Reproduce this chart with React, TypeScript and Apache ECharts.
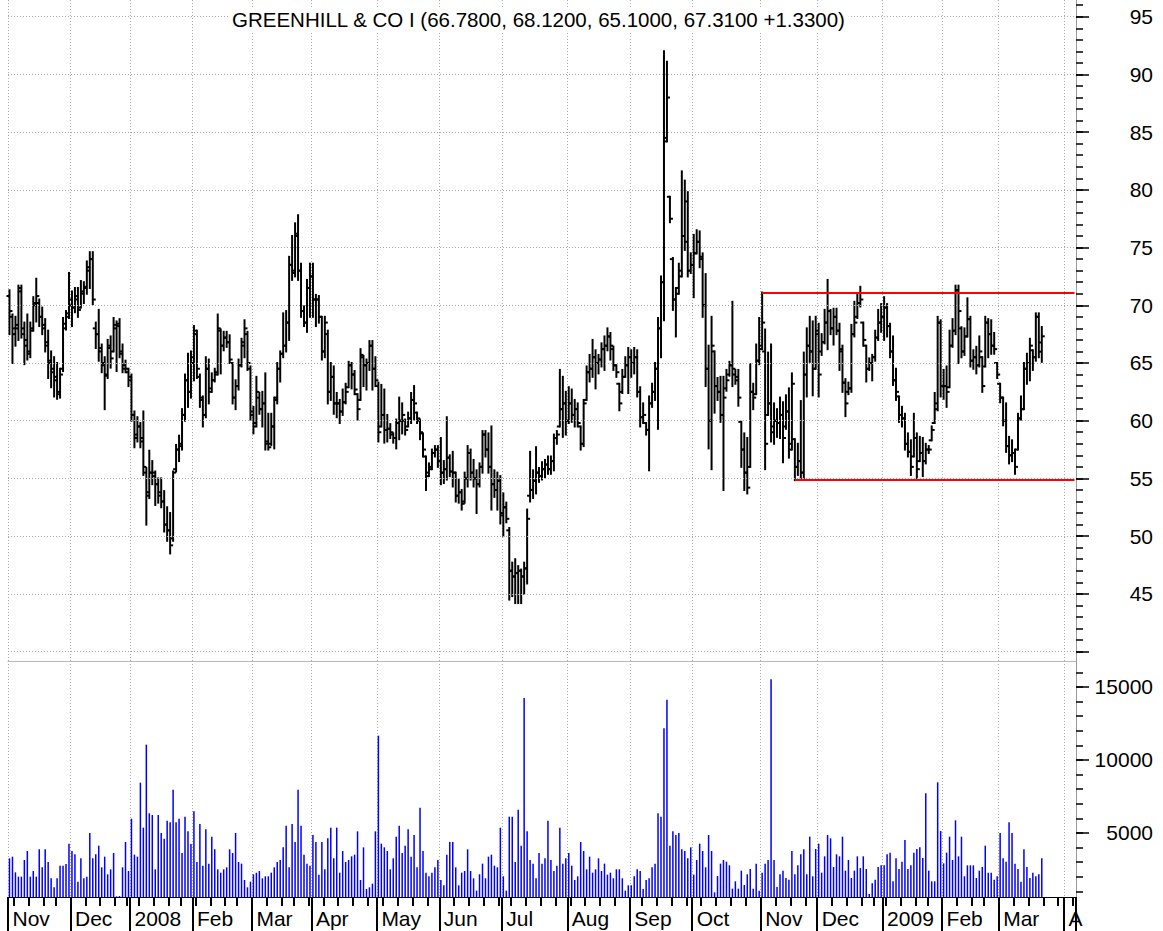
import React, { useEffect, useRef } from 'react';
import * as echarts from 'echarts';

const TICKER = 'GREENHILL & CO I';

// OHLC per trading day: [open, high, low, close]
const nov07 = [[70.8,71.3,67.5,69.5],[69,69.2,65,68],[67.5,69,66.5,68.3],[68,71.7,67,71.5],[71.2,71.7,67.2,67.5],[68,68.5,64.9,66.5],[67,69.2,65.3,65.8],[66,68.5,65.5,67.8],[68,70.7,67.8,70.2],[70,72.3,68.6,70.8],[70.2,70.5,68.2,69],[69,69.8,67.5,68.3],[68,68.8,66,66.5],[66.8,67.8,63.7,65.2],[65,66,62.9,64.5],[64.2,65.5,62.1,63.5],[63.8,65,61.9,62.3],[62.5,64.5,62,64],[64.5,68.9,64.3,68.4],[68,69.5,67.9,69.3],[69,72.8,68.9,70.5]];
const dec07 = [[70,71.2,68.2,69.8],[69.8,71.5,69.4,70.5],[70.8,71.5,69,69.6],[69.8,72.1,69.8,71.2],[71,72,70.2,71.6],[71.5,73.8,71,73.3],[73,74.6,71.5,74],[74,74.6,70.1,70.5],[68,68.5,66.3,67.5],[67.5,69.6,65.2,66.3],[66,66.6,64.2,64.8],[65,65.5,61,63.9],[64,67,63.7,66.3],[66.5,67.3,64.6,65.4],[66,68.9,66,68.3],[68,68.6,64.3,68.4],[68.2,68.8,65.5,65.8],[66,66.6,64.2,64.5],[64.8,65.2,64.2,64.5],[64.2,64.5,63,63.5]];
const jan08 = [[63.8,64,60,60.5],[60.5,60.8,57.7,58.5],[58.8,60.3,58.2,59.5],[59.5,59.8,57.7,58.2],[58.5,60.8,55.3,56],[55.5,55.9,51,53.5],[53.8,57.4,53.3,55.5],[55.5,56.5,54.5,55.5],[55.2,55.6,52.7,54.5],[54.5,55,52.9,53.5],[53.8,55,52.5,53],[53,53.9,50.4,51],[51,52.5,49.6,50.5],[50.5,52,48.5,49.2],[49.8,55.6,49.6,55.5],[55.8,57.9,55.6,57.5],[57.5,58.7,56.5,57.8],[58,61,57.5,60.5],[60.5,64,60,63.5],[63.5,65.8,61.2,62.5],[62.5,66,62,65]];
const feb08 = [[65.5,68.2,63.5,67.8],[67.5,67.8,63.7,64.5],[63.8,64,61.2,62],[61.8,62.1,59.5,60.5],[60.5,65.5,60.3,64.5],[64.5,65.3,61.5,62.5],[62.8,64.1,62.5,63.5],[63.5,64.5,63.4,64],[64.2,69.2,64,68],[67.8,67.9,64.1,66.5],[66.5,67.7,66.1,67.2],[67.2,67.7,66.4,66.8],[66.8,67.4,65,65.3],[65,65,61.5,62],[62,63.5,61,63],[63,65.3,62.7,64.8],[64.8,67.1,64.7,66.8],[66.5,68.7,65.5,68],[67.5,67.7,64.4,65],[64.5,64.7,60.1,60.8]];
const mar08 = [[60.5,61.2,58.9,59.5],[59.8,63.8,59.5,62.5],[62,62.4,60.6,61],[61,62.5,59.5,61.5],[61.5,64.1,57.5,58],[58.2,60.6,57.5,57.7],[58,60.6,57.9,59.5],[59.5,62,57.6,61.8],[62,65,61.5,64.5],[64.5,66,63.4,65.8],[65.8,69.3,65.5,66.5],[66.5,69.5,66,68.5],[68.5,74.2,67,73.5],[73.5,76,72.2,72.8],[73,77.1,72.5,76.2],[76,77.8,72.2,73],[73,73.6,69,69.5],[69.5,69.9,68.2,68.5],[68.5,72.2,67.7,71.5],[71.5,73.6,69,72.5]];
const apr08 = [[72.5,73.6,69,70.5],[70.5,70.9,68.2,70.5],[70.5,70.8,68.5,69],[69,69,65.3,66],[66,69,65.5,68.5],[67.5,67.8,61.5,62.5],[62.5,65,61.8,63.8],[63.8,64.7,60.6,61.5],[61.5,62.4,60.3,61.5],[61.5,61.8,59.8,60.8],[60.8,62.7,60.5,61.6],[61.6,63.2,61.5,62.5],[62.9,65.1,62.9,64.8],[64.8,65,62.8,64],[64,64.3,62.3,62.7],[62.3,62.3,60.1,61],[61.8,66.2,61.8,65.7],[65.5,65.6,63,64.8],[64.8,65.3,62.7,65],[65,66.9,64.4,66.5],[66.5,66.9,62.7,64.5],[64.5,65.5,63,63.5]];
const may08 = [[63,63.3,58.2,59],[59.5,63.1,59.5,60.5],[60.5,62.7,58.1,59.2],[59.2,60.5,58.2,59.3],[59.3,59.7,58.5,59],[58.8,58.9,58.1,58.5],[58.5,60.1,57.6,59.8],[59.8,62,58.4,60],[60,61.5,58.9,60.5],[60,60.1,58.8,59.2],[59.5,60.7,59.5,60.2],[60.2,62.4,59.8,61.8],[61.8,63,60.1,61.5],[60.7,60.7,59.8,60.2],[60,60.1,58.4,59],[58.9,58.9,56.9,57.5],[56.9,56.9,54,55.2],[55.5,56.3,55.2,55.8],[56,57.5,55.8,57.2],[57.2,57.8,56.9,57.5],[57.5,57.8,56,56.5]];
const jun08 = [[56.5,58.5,54.5,55.5],[55.5,56.5,54.6,55.8],[55.8,60.3,54.9,56.8],[56.8,57,55.2,55.6],[55.6,57.3,54.3,55.5],[55.5,55.5,53,53.5],[53.5,54.9,52.9,53.8],[53.8,54,52.3,52.8],[53,55.5,52.9,55],[55,57.8,54.3,57.2],[57.2,57.5,54.9,55.5],[55.5,56.6,54.3,55],[55,55.7,52,54.5],[54.5,56.3,54.3,56],[56,59.1,55.5,58.8],[58.8,59.1,56.9,57.5],[57.5,58.9,55.5,56],[56,59.5,52.3,54.5],[54.5,55.7,53.4,54],[54,55.5,52.3,54.8],[54.8,55.2,51.1,51.8]];
const jul08 = [[52,53.7,50,52.5],[52.5,52.9,51.2,51.5],[50.5,50.7,44.5,47],[47,47.7,44.8,46.5],[46.5,48,44.2,46.8],[46.8,47.4,44.2,47],[47,47.1,44.2,46.5],[46.5,47.7,45,47.2],[47.2,52.3,45.9,51.5],[53.5,57.3,53,54],[54,55.7,53.3,54.8],[54.8,57.7,53.7,55.5],[55.5,55.9,54.7,55.2],[55.2,56.4,54.9,55.8],[55.8,56.6,55.1,56.2],[56.2,56.9,55.4,55.8],[55.8,56.9,55.4,56.5],[56.5,58.8,55.7,58.5],[58.5,59.1,58,58.8],[59.5,64.4,59.5,61],[61,63.8,58.6,61.5],[61.5,62.5,58.8,60]];
const aug08 = [[60,62.9,59.8,61.5],[61.5,62.7,59.9,60.5],[60.5,61.8,59.5,61],[61,61.5,59.5,59.8],[59.5,59.5,57.5,58],[58,61.8,57.8,61.5],[61.8,64.7,61.8,64.2],[64.2,65.7,63.4,64.5],[64.5,67,63.8,65.5],[65.5,66.1,62.8,65],[65,65.7,64.1,65.3],[65.3,66.7,64.7,66.2],[66.2,67.3,64.4,66.5],[66.5,68,66.1,67.3],[67.3,67.6,65.3,66.5],[66.2,66.4,64.4,64.8],[64.8,64.8,63.8,64.2],[63.2,63.2,60.9,61.5],[62.5,64.4,62.4,63.8],[63.8,65.5,63.8,64.8],[64.8,66.3,62.4,65.5]];
const sep08 = [[65.5,66.1,63.8,65],[65,66.3,64.1,65.5],[65.5,66.1,62.1,62.5],[62.5,62.9,59.5,60.3],[60.3,61.5,59.8,60.5],[59.8,59.8,58.8,59.2],[59.2,62.1,55.7,61.5],[61.5,63.2,61.2,62.5],[62.5,65,61.8,64.5],[64.5,68.9,59.3,68],[68,72.5,65.5,72],[72,92,68.7,84.2],[84.5,91.1,84.2,88],[79.4,79.4,77.2,77.5],[74,74.1,69.6,70.5],[70.5,71.5,67.3,71],[71.5,73.6,71,72.5],[73,81.6,72.5,76],[76,80.8,74.8,75.5],[79,79.8,72.5,73],[73,74.5,72.8,73.5]];
const oct08 = [[73.5,76.1,70.7,74.5],[74.5,76.5,74.5,75.5],[75.5,76.4,73.3,74.2],[74,74.5,69,70],[70,72.7,63,64.5],[64.5,66.5,57.6,60],[60,69,55.8,66.5],[66,66,60.7,63],[63,63.7,61.8,62.5],[62.5,63.8,59.9,60.5],[60.5,63.8,54,62],[62.8,64.4,62.6,63.5],[64,65.1,63.9,64.8],[64.8,70.3,63,64.5],[64,64.4,63.2,63.8],[63.5,64.4,61.3,62],[59.9,59.9,56,57.5],[57.5,58.9,54,55.5],[55.5,58.5,53.7,54.2],[56,64.9,56,62.5],[62.5,63.2,61,62],[62.3,66.6,62.3,65.2],[65.2,68.9,64.9,66.2]];
const nov08 = [[66.5,71.1,66.2,68.5],[66,67.9,55.8,58],[60.5,65.9,60.5,61.5],[61.5,66.6,58.2,59],[59.5,61.5,58,60],[60,61,58.6,59.8],[59.8,62,58.5,60.5],[60.5,61.6,56.4,58.5],[59.5,62.2,59.3,60.8],[60.8,62.8,56.8,57.5],[58,64.1,57.5,63.2],[58.4,58.4,54.85,56],[56,58,55.3,56.5],[56.5,61.7,54.9,55.5],[55.5,65.9,54.9,64],[64,68,62.1,66.5],[66.5,69,65.1,66],[66,68.6,62.2,64.5],[64.5,69,64.5,67.8]];
const dec08 = [[67.5,68.4,62.1,64],[66,67.5,65.7,66.8],[66.8,69.6,66.7,68.5],[68.5,72.2,66.2,69.5],[69.5,69.6,67.5,68],[68,69.7,66.6,69],[69,69.7,67.5,67.8],[67.8,68.4,64.4,66.2],[66,66.5,62.5,63.3],[63.3,63.6,60.4,61.5],[62.5,63.3,62.3,62.8],[62.8,68.3,62.5,67.5],[67.5,70.3,67.3,68.5],[69,70.9,68.9,70.2],[70.2,71.6,69.9,70.5],[68.5,68.5,66.5,67],[66.5,66.5,63.4,64.5],[64.5,65.4,64.4,65],[65,65.7,63.5,65.5],[65.5,67.8,65.2,67.2],[67.2,69.6,67,68.5],[68.5,70.1,67.7,69]];
const jan09 = [[69,70.7,67,69.8],[69.8,70.1,67.3,68.2],[68.2,68.4,65.5,66],[66,67.3,63.1,63.5],[63.5,64.5,61.8,62.5],[62.1,62.1,59.9,60.5],[60.5,61.2,59.5,60.2],[60.2,60.6,57.5,58],[58,58.9,56.9,57.3],[57.3,58.3,55.3,56],[56.9,60.6,56.9,58.5],[58.5,58.9,55,55.8],[56.5,58.6,56.5,57.2],[57.2,58.5,55.2,56.5],[56.5,58,56.3,57.5],[57.5,57.8,57.2,57.5],[58.3,59.5,58.3,59.2],[59.8,62.4,59.8,61.5],[61,69,60.9,68.5],[68.5,68.7,62.1,63]];
const feb09 = [[63,64.4,61.9,63],[63,64.7,61.2,62.5],[62.9,67.8,62.9,66.5],[66.5,68.8,66.4,67.8],[67.8,71.7,67.5,71.3],[71.3,71.7,65,69.5],[68,68.1,65.5,66],[66,68,65.7,67.3],[67.3,70.6,67.3,68.8],[68.8,69,64.7,65.2],[65.2,66.1,64.5,65.5],[65.5,66.4,64.1,64.8],[64.8,67.3,64.7,66],[65.5,65.5,62.5,63],[64.7,69,64.7,68.5],[68.5,68.8,65.5,67.5],[67.5,68.7,65.8,66.5],[66.5,67.6,65.8,66.2],[65,65,63.7,64]];
const mar09 = [[63.2,63.2,61.6,62],[62,62,59.6,60],[60,61.5,57.3,57.8],[57.8,58.6,56.3,57],[57,58.3,56.5,57.2],[57.2,57.5,55.4,56],[57.5,60.6,57.5,60.2],[60.2,62.1,60.1,61],[61,65,61,64.5],[64.5,65.8,63.2,65],[65,67.1,63.5,66.5],[66.1,66.1,64.4,65.5],[65.5,69.3,65.2,69],[69,69.3,65.5,65.98],[66.78,68.12,65.1,67.31]];

// Volume per trading day
const vNov07 = [3265,3379,2306,2009,2009,3150,3767,2009,2397,2009,3881,2648,3881,3014,1895,1278,1895,2762,2762,2877,4269];
const vDec07 = [3767,3539,1667,3265,1895,2009,5000,3265,3539,4132,2648,3379,2169,2511,3630,662,685,2648,4383,2397];
const vJan08 = [5981,3516,3379,8447,5365,11050,6347,6233,2511,6233,5000,4612,5844,5730,7968,5730,5981,3630,6118,5114,4246];
const vFeb08 = [6484,3014,5616,2762,5251,2900,4749,3881,2511,2283,2511,2648,3881,3630,5000,3014,2900,1781,1278,1667];
const vMar08 = [2169,2283,2397,1895,2032,2032,2283,2648,3014,3150,4018,5502,2648,5616,4383,7968,5502,3516,2900,2762];
const vApr08 = [4863,4383,2146,4383,2511,4634,5365,3265,5365,2283,3767,3014,3150,3402,3516,5114,1781,4018,1164,1278,1530,5114];
const vMay08 = [11666,4269,4018,3767,2511,3265,4749,5502,3630,4132,5251,3379,4863,2648,6735,3767,2283,2032,2283,2648,3150];
const vJun08 = [1781,1415,3516,4383,4383,2648,1415,2283,2397,3881,2397,1895,1050,2169,2900,1895,3379,3516,2762,2648,5365];
const vJul08 = [2032,1050,6118,6118,3014,6598,4132,14246,5114,3150,2900,1895,3630,2900,3265,5844,3150,2397,2762,5365,2900,3265];
const vAug08 = [3630,2762,1781,2032,4383,3767,2511,3379,2283,2511,3265,2397,2900,2146,2283,1895,2511,2511,1895,1050,1415];
const vSep08 = [1415,2032,2511,2397,1164,1781,1895,2648,2900,6347,6118,12168,14132,4132,5114,4863,5000,3881,3767,3265,4018];
const vOct08 = [2146,3150,4269,3767,2648,4863,3767,936,2055,2900,3150,3036,2785,1187,1689,1187,2420,1438,2169,2534,1187,2900,1050];
const vNov08 = [2283,2900,3150,15524,3150,1301,2169,2420,1918,1804,3767,2169,2785,3539,3881,2169,4749,2032,3904];
const vDec08 = [4269,2283,3402,4863,4634,2671,3539,3402,4749,2420,3150,1918,2420,3402,2600,3402,2534,822,1552,1804,2671,2785];
const vJan09 = [2785,3539,3653,1689,3265,2534,3036,4520,2534,2785,3653,3904,4018,3288,7717,2420,1689,1689,8470,5137];
const vFeb09 = [2922,3653,4749,3150,5867,3402,4749,2032,2785,2785,2785,1918,2420,2671,4132,2283,2283,1804,2032];
const vMar09 = [5000,3265,3036,5730,5000,2900,2534,1667,3881,2671,1918,2283,2032,2169,3265];

// Support / resistance lines: [start trading-day index, price]
const RESISTANCE = [253, 71.1];
const SUPPORT = [264, 54.85];

// Axis ranges and tick labels
const PRICE_MIN = 39.18;
const PRICE_MAX = 96.45;
const PRICE_GRID = [40, 45, 50, 55, 60, 65, 70, 75, 80, 85, 90, 95];
const PRICE_LABELS = [45, 50, 55, 60, 65, 70, 75, 80, 85, 90, 95];
const VOL_MIN = 616;
const VOL_MAX = 16780;
const VOL_LABELS = [5000, 10000, 15000];
const MONTHS = ['Jan', 'Feb', 'Mar', 'Apr', 'May', 'Jun', 'Jul', 'Aug', 'Sep', 'Oct', 'Nov', 'Dec'];
const LABEL_OVERRIDES: Record<string, string> = { '2009-04': 'A' };

const HOLIDAYS = ['2007-11-22', '2007-12-25', '2008-01-01', '2008-01-21', '2008-02-18', '2008-03-21', '2008-05-26', '2008-07-04', '2008-09-01', '2008-11-27', '2008-12-25', '2009-01-01', '2009-01-19', '2009-02-16'];

function buildDays(): string[] {
  const out: string[] = [];
  const d = new Date(Date.UTC(2007, 10, 1));
  const end = Date.UTC(2009, 3, 6);
  while (d.getTime() <= end) {
    const wd = d.getUTCDay();
    const s = d.toISOString().slice(0, 10);
    if (wd !== 0 && wd !== 6 && HOLIDAYS.indexOf(s) < 0) out.push(s);
    d.setUTCDate(d.getUTCDate() + 1);
  }
  return out;
}

const FONT = '"Liberation Sans", Arial, Helvetica, sans-serif';

export default function App() {
  const ref = useRef<HTMLDivElement>(null);
  useEffect(() => {
    if (!ref.current) return;
    const chart = echarts.init(ref.current, undefined, { renderer: 'svg' });

    const days = buildDays();
    const dow = (s: string) => new Date(s + 'T00:00:00Z').getUTCDay();
    const monthStart = days.map((s, i) => i === 0 || s.slice(0, 7) !== days[i - 1].slice(0, 7));
    const weekStart = days.map((s, i) => i === 0 || dow(s) < dow(days[i - 1]));
    const monthLabel = (s: string) => {
      const key = s.slice(0, 7);
      if (LABEL_OVERRIDES[key]) return LABEL_OVERRIDES[key];
      const m = +s.slice(5, 7);
      return m === 1 ? s.slice(0, 4) : MONTHS[m - 1];
    };

    const ohlc = [nov07, dec07, jan08, feb08, mar08, apr08, may08, jun08, jul08, aug08, sep08, oct08, nov08, dec08, jan09, feb09, mar09].flat();
    const vols = [vNov07, vDec07, vJan08, vFeb08, vMar08, vApr08, vMay08, vJun08, vJul08, vAug08, vSep08, vOct08, vNov08, vDec08, vJan09, vFeb09, vMar09].flat();
    const ohlcData = ohlc.map((b, i) => [i, b[0], b[1], b[2], b[3]]);
    const closes = ohlc.map((b) => b[3]);
    const lastIdx = days.length - 1;

    const last = ohlc[ohlc.length - 1];
    const prevClose = ohlc[ohlc.length - 2][3];
    const chg = last[3] - prevClose;
    const titleText = `${TICKER} (${last[0].toFixed(4)}, ${last[1].toFixed(4)}, ${last[2].toFixed(4)}, ${last[3].toFixed(4)} ${chg >= 0 ? '+' : ''}${chg.toFixed(4)})`;

    const priceMinor: number[] = [];
    for (let v = Math.ceil(PRICE_MIN); v <= Math.floor(PRICE_MAX); v++) priceMinor.push(v);
    const volMinor: number[] = [];
    for (let v = 1000; v <= VOL_MAX; v += 1000) volMinor.push(v);

    const dotted = { color: '#a8a8a8', type: [1, 2] as any, width: 1 };
    const gridW = 1068;

    const option: any = {
      animation: false,
      backgroundColor: '#ffffff',
      textStyle: { fontFamily: FONT },
      title: {
        text: titleText,
        left: 229,
        top: 8,
        padding: [1, 3],
        backgroundColor: '#ffffff',
        textStyle: { fontSize: 20.5, fontWeight: 'normal', color: '#000', fontFamily: FONT },
      },
      grid: [
        { left: 8, top: 0, width: gridW, height: 661, outerBoundsMode: 'none' },
        { left: 8, top: 661, width: gridW, height: 236, outerBoundsMode: 'none' },
      ],
      xAxis: [
        {
          type: 'category', gridIndex: 0, data: days, boundaryGap: true, position: 'bottom',
          axisLine: { show: true, lineStyle: { color: '#b8b8b8', width: 1 } },
          axisTick: { show: false }, axisLabel: { show: false },
          splitLine: { show: true, interval: (i: number) => monthStart[i], lineStyle: dotted },
        },
        {
          type: 'category', gridIndex: 1, data: days, boundaryGap: true, position: 'bottom',
          axisLine: { show: true, lineStyle: { color: '#000', width: 1 } },
          axisTick: { show: true, interval: (i: number) => weekStart[i], length: 9, lineStyle: { color: '#000', width: 2 } },
          axisLabel: { show: false },
          splitLine: { show: true, interval: (i: number) => monthStart[i], lineStyle: dotted },
        },
        {
          type: 'category', gridIndex: 1, data: days, boundaryGap: true, position: 'bottom',
          axisLine: { show: false },
          axisTick: { show: true, interval: (i: number) => monthStart[i], length: 34, lineStyle: { color: '#000', width: 2 } },
          axisLabel: {
            show: true, interval: (i: number) => monthStart[i], formatter: (v: string) => monthLabel(v),
            align: 'left', margin: 11, fontSize: 21, color: '#000', fontFamily: FONT, padding: [0, 0, 0, 3],
          },
          splitLine: { show: false },
        },
      ],
      yAxis: [
        {
          type: 'value', gridIndex: 0, position: 'right', min: PRICE_MIN, max: PRICE_MAX,
          axisLine: { show: true, lineStyle: { color: '#9a9a9a', width: 1 } },
          axisTick: { show: true, customValues: PRICE_GRID, length: 13, lineStyle: { color: '#000', width: 1.5 } },
          axisLabel: { show: true, customValues: PRICE_LABELS, formatter: (v: number) => String(v), align: 'right', margin: 77, fontSize: 21, color: '#000', fontFamily: FONT, padding: [4, 0, 0, 0] },
          splitLine: { show: false },
        },
        {
          type: 'value', gridIndex: 0, position: 'right', min: PRICE_MIN, max: PRICE_MAX,
          axisLine: { show: false },
          axisTick: { show: true, customValues: priceMinor, length: 7, lineStyle: { color: '#000', width: 1.5 } },
          axisLabel: { show: false }, splitLine: { show: false },
        },
        {
          type: 'value', gridIndex: 1, position: 'right', min: VOL_MIN, max: VOL_MAX,
          axisLine: { show: true, lineStyle: { color: '#9a9a9a', width: 1 } },
          axisTick: { show: true, customValues: VOL_LABELS, length: 13, lineStyle: { color: '#000', width: 1.5 } },
          axisLabel: { show: true, customValues: VOL_LABELS, formatter: (v: number) => String(v), align: 'right', margin: 77, fontSize: 21, color: '#000', fontFamily: FONT, padding: [3, 0, 0, 0] },
          splitLine: { show: false },
        },
        {
          type: 'value', gridIndex: 1, position: 'right', min: VOL_MIN, max: VOL_MAX,
          axisLine: { show: false },
          axisTick: { show: true, customValues: volMinor, length: 7, lineStyle: { color: '#000', width: 1.5 } },
          axisLabel: { show: false }, splitLine: { show: false },
        },
      ],
      series: [
        {
          name: 'grid', type: 'line', xAxisIndex: 0, yAxisIndex: 0, data: closes, z: 1, silent: true,
          showSymbol: false, symbol: 'none', lineStyle: { opacity: 0 },
          markLine: {
            silent: true, symbol: 'none', label: { show: false }, animation: false,
            lineStyle: dotted,
            data: PRICE_GRID.map((v) => ({ yAxis: v })),
          },
        },
        {
          name: 'price', type: 'custom', xAxisIndex: 0, yAxisIndex: 0, z: 3,
          data: ohlcData,
          encode: { x: 0, y: [1, 2, 3, 4] },
          renderItem: (_p: any, api: any) => {
            const i = api.value(0);
            const pO = api.coord([i, api.value(1)]);
            const pH = api.coord([i, api.value(2)]);
            const pL = api.coord([i, api.value(3)]);
            const pC = api.coord([i, api.value(4)]);
            const st = { stroke: '#000', lineWidth: 2 };
            return {
              type: 'group',
              children: [
                { type: 'line', shape: { x1: pH[0], y1: pH[1] - 1, x2: pL[0], y2: pL[1] + 1 }, style: st },
                { type: 'line', shape: { x1: pO[0] - 3, y1: pO[1], x2: pO[0], y2: pO[1] }, style: st },
                { type: 'line', shape: { x1: pC[0], y1: pC[1], x2: pC[0] + 3, y2: pC[1] }, style: st },
              ],
            };
          },
        },
        {
          name: 'levels', type: 'line', xAxisIndex: 0, yAxisIndex: 0, data: closes, z: 6, silent: true,
          showSymbol: false, symbol: 'none', lineStyle: { opacity: 0 },
          markLine: {
            silent: true, symbol: 'none', label: { show: false }, animation: false,
            lineStyle: { color: '#ff0000', width: 2, type: 'solid' },
            data: [
              [{ xAxis: RESISTANCE[0], yAxis: RESISTANCE[1] }, { xAxis: lastIdx, yAxis: RESISTANCE[1] }],
              [{ xAxis: SUPPORT[0], yAxis: SUPPORT[1] }, { xAxis: lastIdx, yAxis: SUPPORT[1] }],
            ],
          },
        },
        {
          name: 'volume', type: 'bar', xAxisIndex: 1, yAxisIndex: 2, data: vols, barWidth: 1.5,
          itemStyle: { color: '#0000ff' }, z: 3,
        },
      ],
    };
    chart.setOption(option);
    return () => chart.dispose();
  }, []);
  return <div ref={ref} style={{ position: 'absolute', left: 0, top: 0, width: 1163, height: 931 }} />;
}
